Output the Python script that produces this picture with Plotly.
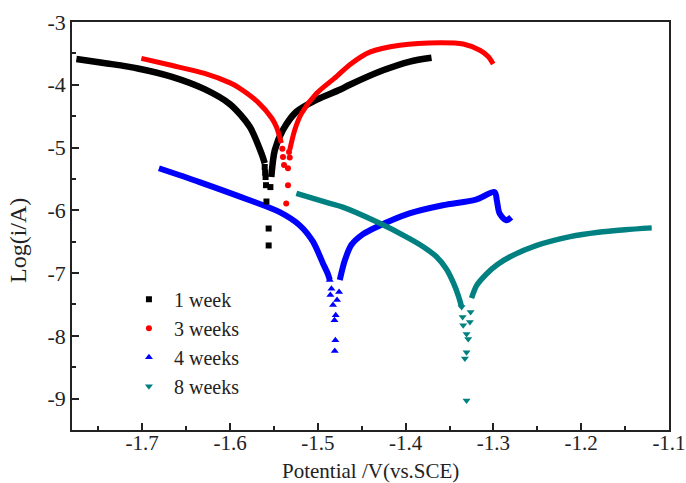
import plotly.graph_objects as go

# ---------------- data ----------------
series_names = ["1 week", "3 weeks", "4 weeks", "8 weeks"]

# 1 week
w1_cath_x = [-1.775, -1.740, -1.705, -1.667, -1.629, -1.600, -1.5775, -1.5643, -1.5605]
w1_cath_y = [-3.59, -3.66, -3.74, -3.87, -4.07, -4.31, -4.67, -5.09, -5.25]
w1_anod_x = [-1.5530, -1.5490, -1.5397, -1.5244, -1.5016, -1.4750, -1.4636, -1.4257, -1.3952, -1.3705]
w1_anod_y = [-5.47, -5.04, -4.72, -4.43, -4.24, -4.08, -4.00, -3.77, -3.63, -3.57]
w1_dip_x = [-1.5605, -1.5600, -1.5595, -1.5540, -1.5590, -1.5585, -1.5560, -1.5560]
w1_dip_y = [-5.31, -5.40, -5.47, -5.63, -5.60, -5.86, -6.29, -6.56]

# 3 weeks
w3_cath_x = [-1.701, -1.667, -1.629, -1.600, -1.5906, -1.568, -1.5526, -1.5472, -1.5415]
w3_cath_y = [-3.58, -3.69, -3.82, -3.97, -4.04, -4.28, -4.53, -4.67, -4.93]
w3_anod_x = [-1.5320, -1.5263, -1.5187, -1.5016, -1.4788, -1.4636, -1.4408, -1.4066, -1.3610, -1.3344, -1.3154, -1.3060, -1.3002]
w3_anod_y = [-5.04, -4.72, -4.46, -4.14, -3.87, -3.68, -3.48, -3.37, -3.33, -3.35, -3.45, -3.55, -3.67]
w3_dip_x = [-1.5404, -1.5397, -1.5328, -1.5320, -1.5385, -1.5340, -1.5340, -1.5360]
w3_dip_y = [-5.02, -5.15, -5.07, -5.16, -5.28, -5.33, -5.60, -5.89]

# 4 weeks
w4_cath_x = [-1.681, -1.6347, -1.5776, -1.5434, -1.5206, -1.5055, -1.4940, -1.4884, -1.4864]
w4_cath_y = [-5.33, -5.55, -5.84, -6.03, -6.24, -6.50, -6.85, -7.02, -7.11]
w4_anod_x = [-1.4750, -1.4693, -1.4617, -1.4485, -1.4336, -1.3956, -1.3576, -1.3200, -1.2986, -1.2960, -1.2930, -1.2854, -1.2797]
w4_anod_y = [-7.11, -6.80, -6.55, -6.38, -6.27, -6.05, -5.92, -5.83, -5.71, -5.85, -6.05, -6.16, -6.11]
w4_dip_x = [-1.4864, -1.4845, -1.4857, -1.4827, -1.4781, -1.4758, -1.4796, -1.4810, -1.4800, -1.4807]
w4_dip_y = [-7.11, -7.25, -7.35, -7.51, -7.43, -7.30, -7.67, -7.75, -8.07, -8.24]

# 8 weeks
w8_cath_x = [-1.5244, -1.4864, -1.4716, -1.4336, -1.3956, -1.3800, -1.3648, -1.3534, -1.3458, -1.3400, -1.3362]
w8_cath_y = [-5.73, -5.89, -5.95, -6.18, -6.45, -6.58, -6.74, -6.94, -7.15, -7.36, -7.54]
w8_anod_x = [-1.3249, -1.3192, -1.3076, -1.2950, -1.2810, -1.2506, -1.2126, -1.1803, -1.1500, -1.1197]
w8_anod_y = [-7.40, -7.20, -7.01, -6.86, -6.74, -6.56, -6.42, -6.35, -6.31, -6.28]
w8_dip_x = [-1.3362, -1.3351, -1.3344, -1.3306, -1.3287, -1.3268, -1.3260, -1.3306, -1.3325, -1.3306]
w8_dip_y = [-7.54, -7.70, -7.83, -7.97, -8.05, -7.78, -7.62, -8.26, -8.36, -9.03]

x_tick_vals = [-1.7, -1.6, -1.5, -1.4, -1.3, -1.2, -1.1]
x_tick_labels = ["-1.7", "-1.6", "-1.5", "-1.4", "-1.3", "-1.2", "-1.1"]
y_tick_vals = [-9, -8, -7, -6, -5, -4, -3]
y_tick_labels = ["-9", "-8", "-7", "-6", "-5", "-4", "-3"]
x_title = "Potential /V(vs.SCE)"
y_title = "Log(i/A)"

# ---------------- styles ----------------
colors = ["#000000", "#ff0000", "#0000ff", "#008080"]
symbols = ["square", "circle", "triangle-up", "triangle-down"]
line_widths = [6.5, 5, 6, 5.5]
marker_sizes = [6, 6, 7, 7]
FONT = "Liberation Serif, Times New Roman, serif"
INK = "#222222"

data = [
    (w1_cath_x, w1_cath_y, w1_anod_x, w1_anod_y, w1_dip_x, w1_dip_y),
    (w3_cath_x, w3_cath_y, w3_anod_x, w3_anod_y, w3_dip_x, w3_dip_y),
    (w4_cath_x, w4_cath_y, w4_anod_x, w4_anod_y, w4_dip_x, w4_dip_y),
    (w8_cath_x, w8_cath_y, w8_anod_x, w8_anod_y, w8_dip_x, w8_dip_y),
]

fig = go.Figure()
for i, (cx, cy, ax, ay, dx, dy) in enumerate(data):
    fig.add_trace(go.Scatter(
        x=cx + [None] + ax, y=cy + [None] + ay,
        mode="lines", line=dict(color=colors[i], width=line_widths[i], shape="spline", smoothing=0.8),
        showlegend=False, hoverinfo="skip", connectgaps=False,
    ))
for i, (cx, cy, ax, ay, dx, dy) in enumerate(data):
    fig.add_trace(go.Scatter(
        x=dx, y=dy, mode="markers", name=series_names[i],
        marker=dict(color=colors[i], symbol=symbols[i], size=marker_sizes[i], line=dict(width=0)),
    ))

axis_common = dict(
    showgrid=False, zeroline=False, automargin=False, ticklabeloverflow="allow",
    showline=True, linecolor=INK, linewidth=1.5, mirror=True,
    ticks="inside", ticklen=7, tickwidth=1.5, tickcolor=INK,
)

plot_h = 483 - 22 - 53

fig.update_layout(
    width=686, height=483,
    margin=dict(l=72, r=17, t=22, b=53),
    paper_bgcolor="white", plot_bgcolor="white",
    font=dict(family=FONT, size=21, color=INK),
    xaxis=dict(
        range=[-1.78, -1.1], tickvals=x_tick_vals, ticktext=x_tick_labels,
        minor=dict(ticks="inside", ticklen=4, tickwidth=1.5, tickcolor=INK, dtick=0.05, tick0=-1.7),
        ticklabelstandoff=-7,
        tickfont=dict(family=FONT, size=21, color=INK),
        **axis_common,
    ),
    yaxis=dict(
        range=[-9.5, -3], tickvals=y_tick_vals, ticktext=y_tick_labels,
        minor=dict(ticks="inside", ticklen=4, tickwidth=1.5, tickcolor=INK, dtick=0.5, tick0=-9),
        tickfont=dict(family=FONT, size=22, color=INK),
        **axis_common,
    ),
    legend=dict(
        x=0.087, y=0.368, xanchor="left", yanchor="top",
        bgcolor="rgba(0,0,0,0)", font=dict(family=FONT, size=20, color=INK),
        tracegroupgap=0, itemsizing="trace", itemwidth=40,
    ),
    showlegend=True,
    annotations=[
        dict(text=x_title, xref="paper", yref="paper", x=0.5, y=0, yshift=-41,
             xanchor="center", yanchor="middle", showarrow=False,
             font=dict(family=FONT, size=21, color=INK)),
        dict(text=y_title, xref="paper", yref="paper", x=0, y=(430 - 241) / plot_h, xshift=-54,
             xanchor="center", yanchor="middle", showarrow=False, textangle=-90,
             font=dict(family=FONT, size=24, color=INK)),
    ],
)

fig.write_html("out.html")
